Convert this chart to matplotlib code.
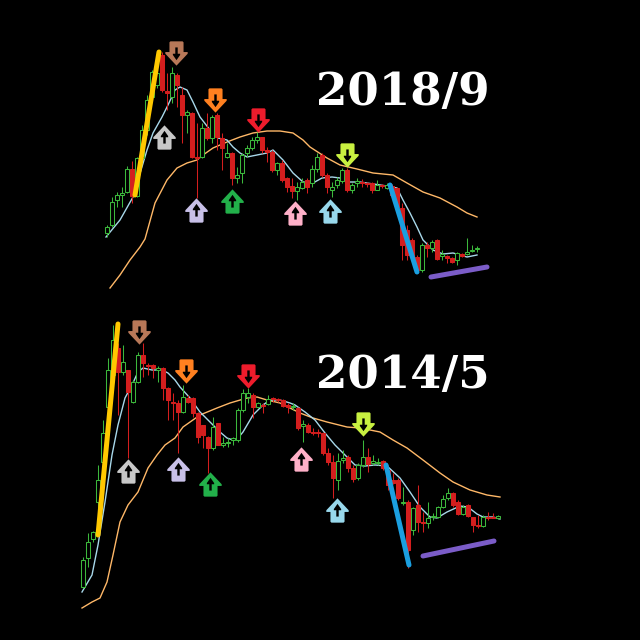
import matplotlib

matplotlib.use("Agg")

import matplotlib.pyplot as plt
from matplotlib.patches import Rectangle
from matplotlib.path import Path


# ---- 2018/9 panel (candle index, price) ----
TOP_OPEN = [67, 75, 100, 105, 108, 131, 104, 142, 170, 203, 215, 245, 209, 203, 225,
            205, 185, 187, 143, 143, 172, 162, 185, 162, 143, 147, 122, 127, 147, 152,
            160, 163, 150, 148, 130, 137, 122, 114, 109, 112, 120, 117, 131, 145, 125,
            110, 115, 119, 130, 110, 117, 118, 117, 117, 110, 115, 112, 114, 112, 92,
            70, 60, 43, 30, 55, 52, 60, 44, 44, 42, 40, 46, 46, 49, 51]
TOP_HIGH = [75, 103, 108, 113, 134, 139, 143, 175, 205, 230, 235, 248, 227, 233, 227,
            213, 190, 188, 177, 177, 187, 185, 187, 167, 157, 148, 133, 147, 155, 163,
            168, 163, 153, 150, 138, 140, 123, 122, 118, 122, 122, 135, 147, 147, 127,
            118, 123, 132, 132, 117, 122, 121, 118, 118, 120, 116, 117, 116, 113, 97,
            75, 62, 45, 57, 58, 60, 61, 50, 45, 43, 48, 47, 62, 55, 54]
TOP_LOW = [63, 73, 93, 93, 107, 97, 103, 140, 165, 200, 212, 208, 190, 197, 193,
           157, 167, 142, 102, 142, 160, 157, 150, 130, 142, 115, 117, 117, 143, 150,
           157, 147, 138, 128, 125, 118, 108, 102, 100, 111, 107, 113, 128, 123, 107,
           103, 112, 117, 108, 107, 113, 113, 113, 107, 110, 112, 111, 103, 92, 40,
           40, 40, 28, 28, 43, 48, 40, 40, 37, 37, 35, 43, 45, 48, 48]
TOP_CLOSE = [73, 98, 105, 107, 131, 104, 142, 170, 200, 228, 227, 210, 207, 227, 215,
             185, 188, 143, 142, 172, 162, 183, 163, 152, 147, 122, 125, 145, 152, 160,
             163, 150, 148, 130, 137, 120, 113, 109, 113, 118, 113, 131, 143, 125, 113,
             113, 120, 130, 110, 115, 119, 117, 116, 110, 115, 114, 115, 105, 93, 55,
             45, 43, 30, 55, 52, 58, 41, 46, 42, 38, 47, 44, 48, 50, 52]

TOP_MA_SHORT_X = [-0.2, 2.6, 5.2, 8, 9.2, 11, 12.2, 13.6, 14.6, 16, 17.2, 18.6, 20.6,
                  22.2, 24, 25.2, 26.6, 28, 30, 32, 33.2, 35.2, 37.2, 39.2, 41.2, 43,
                  45, 46.6, 48, 50.6, 56, 58, 59.2, 60.6, 62, 63.2, 65.2, 67.2, 69.2,
                  72, 74]
TOP_MA_SHORT_Y = [63, 80, 103, 150, 167, 183, 195, 210, 213, 210, 198, 183, 170, 162,
                  160, 153, 147, 143, 145, 147, 150, 140, 127, 118, 117, 122, 123, 122,
                  118, 118, 114, 112, 100, 87, 73, 60, 50, 46, 47, 43, 45]
TOP_MA_LONG_X = [0.6, 2.6, 4.6, 6.6, 7.6, 9.6, 12, 14, 16, 18, 19.2, 21.2, 24, 26.6,
                 29.2, 32, 34.6, 37.2, 39.2, 40.6, 44, 46.6, 50, 53.2, 57.2, 60, 63.2,
                 66.6, 70, 72, 74]
TOP_MA_LONG_Y = [12, 25, 40, 53, 61, 97, 120, 132, 137, 140, 145, 152, 158, 163, 167,
                 169, 169, 167, 160, 153, 142, 135, 131, 127, 125, 117, 108, 102, 93,
                 87, 83]

# ---- 2014/5 panel ----
BOT_OPEN = [33, 62, 81, 118, 158, 213, 245, 272, 248, 250, 218, 238, 265, 255, 255,
            250, 252, 232, 218, 217, 208, 222, 222, 207, 195, 183, 172, 197, 175, 177,
            180, 180, 210, 223, 225, 213, 215, 216, 222, 221, 220, 215, 213, 212, 194,
            195, 188, 188, 187, 167, 158, 140, 160, 163, 152, 142, 155, 163, 157, 157,
            159, 150, 140, 140, 117, 118, 90, 115, 98, 97, 103, 103, 113, 122, 127,
            118, 106, 115, 103, 95, 94, 103, 103, 102]
BOT_HIGH = [63, 87, 89, 155, 200, 262, 295, 277, 275, 250, 240, 268, 277, 257, 256,
            254, 253, 233, 227, 220, 235, 225, 223, 208, 195, 184, 203, 197, 183, 182,
            183, 212, 231, 232, 227, 218, 217, 225, 223, 222, 221, 217, 217, 213, 200,
            197, 192, 191, 188, 172, 165, 167, 170, 165, 155, 157, 180, 172, 165, 162,
            160, 155, 147, 142, 133, 120, 113, 135, 108, 118, 107, 114, 125, 132, 128,
            120, 115, 116, 103, 105, 105, 108, 107, 105]
BOT_LOW = [32, 53, 78, 105, 155, 212, 242, 205, 245, 162, 217, 237, 243, 245, 242,
           238, 220, 200, 200, 167, 207, 217, 203, 177, 172, 147, 170, 175, 173, 173,
           175, 178, 208, 217, 202, 212, 207, 215, 218, 218, 213, 207, 210, 190, 178,
           187, 185, 183, 165, 155, 122, 130, 157, 148, 138, 140, 153, 148, 155, 155,
           150, 130, 136, 120, 115, 52, 85, 88, 88, 92, 100, 102, 112, 120, 113,
           105, 105, 103, 88, 92, 93, 100, 102, 101]
BOT_CLOSE = [60, 78, 88, 140, 187, 250, 280, 248, 258, 228, 238, 265, 257, 254, 252,
             252, 232, 220, 217, 208, 223, 218, 207, 183, 185, 172, 193, 175, 177, 178,
             182, 210, 227, 227, 213, 217, 214, 221, 221, 220, 214, 213, 214, 192, 196,
             188, 187, 187, 167, 158, 142, 159, 162, 152, 141, 155, 163, 156, 159, 158,
             152, 135, 137, 122, 118, 70, 112, 98, 97, 102, 104, 113, 121, 127, 115,
             106, 113, 104, 95, 94, 103, 102, 102, 104]

BOT_MA_SHORT_X = [-0.2, 1.8, 3, 4.4, 5.8, 7, 8.4, 9.8, 11, 12, 13.8, 15.8, 17, 18.4,
                  19.4, 21.4, 23.4, 25.4, 27.4, 28.8, 30, 31, 32, 34, 36, 37.4, 39.4,
                  41.4, 42.4, 44.4, 46.4, 48.4, 50.4, 52.4, 54.4, 56.4, 58.4, 60.8,
                  63.4, 65.4, 67.4, 69.4, 70.8, 72.8, 75.4, 77, 78.8, 80, 82, 83.4]
BOT_MA_SHORT_Y = [28, 45, 75, 118, 165, 195, 222, 235, 248, 252, 250, 250, 247, 240,
                  233, 222, 208, 198, 188, 182, 180, 182, 188, 205, 215, 220, 220, 217,
                  215, 208, 200, 187, 175, 165, 155, 154, 155, 154, 142, 128, 113, 103,
                  102, 108, 114, 113, 106, 103, 103, 101]
BOT_MA_LONG_X = [-0.2, 1.8, 3.4, 4.8, 6, 7.4, 9, 11, 13, 14.8, 16.4, 18.4, 20, 23.4,
                 26.8, 29.4, 32.8, 34.8, 36.8, 39.4, 43.4, 46, 48.8, 52.8, 55.4, 59.4,
                 62, 64.8, 68, 71.4, 74, 77.4, 80.8, 83.4]
BOT_MA_LONG_Y = [12, 18, 22, 38, 65, 98, 115, 128, 152, 165, 175, 182, 193, 205, 212,
                 217, 222, 223, 220, 217, 207, 202, 198, 193, 192, 188, 180, 172, 160,
                 147, 138, 130, 125, 123]

# trend strokes: (x0, y0, x1, y1, colour)
TOP_STROKES = [(5.6, 105, 10.4, 248, "#ffc800"),
               (56.6, 115, 62.0, 28, "#1b9fe0"),
               (64.8, 23, 76.0, 33, "#7b5cc8")]
BOT_STROKES = [(3.0, 85, 7.0, 296, "#ffc800"),
               (60.6, 155, 65.2, 55, "#1b9fe0"),
               (68.0, 64, 82.2, 79, "#7b5cc8")]

# signal arrows: (x, y, direction, colour)
TOP_ARROWS = [(13.8, 247, "down", "#b87858"),
              (11.4, 163, "up", "#c8c8c8"),
              (21.6, 200, "down", "#ff8020"),
              (17.8, 90, "up", "#c8c0e8"),
              (25.0, 99, "up", "#22b04a"),
              (30.2, 180, "down", "#ee1c2c"),
              (37.6, 87, "up", "#ffb0c8"),
              (44.6, 89, "up", "#98d8ec"),
              (48.0, 145, "down", "#c8f040")]
BOT_ARROWS = [(11.2, 288, "down", "#b87858"),
              (9.0, 149, "up", "#c8c8c8"),
              (20.6, 249, "down", "#ff8020"),
              (19.0, 151, "up", "#c8c0e8"),
              (25.4, 136, "up", "#22b04a"),
              (33.0, 244, "down", "#ee1c2c"),
              (43.6, 161, "up", "#ffb0c8"),
              (50.8, 110, "up", "#98d8ec"),
              (56.0, 196, "down", "#c8f040")]

GREEN = "#3cb83c"
RED = "#d41e1e"
MA_SHORT_COLOR = "#a8d8ea"
MA_LONG_COLOR = "#ffb868"
ARROW_SIZE = 17.5
INNER_SCALE = 0.55


def arrow_paths(direction):
    s = 1 if direction == "up" else -1
    # blocky outer arrow with slightly cut corners
    outer = [(0, 1), (0.92, 0.02), (0.92, -0.12), (0.58, -0.12), (0.58, -0.92),
             (0.5, -1), (-0.5, -1), (-0.58, -0.92), (-0.58, -0.12), (-0.92, -0.12),
             (-0.92, 0.02), (0, 1)]
    inner = [(0, 0.55), (0.3, 0.12), (0.3, 0.02), (0.1, 0.02), (0.1, -0.5),
             (-0.1, -0.5), (-0.1, 0.02), (-0.3, 0.02), (-0.3, 0.12), (0, 0.55)]
    outer = Path([(x, s * y) for x, y in outer], closed=True)
    inner = Path([(x, s * y) for x, y in inner], closed=True)
    return outer, inner


def draw_candles(ax, opens, highs, lows, closes):
    for i, (o, h, l, c) in enumerate(zip(opens, highs, lows, closes)):
        up = c >= o
        color = GREEN if up else RED
        ax.vlines(i, l, h, color=color, lw=0.75, zorder=2)
        ax.add_patch(Rectangle((i - 0.32, min(o, c)), 0.64, max(abs(c - o), 1),
                               facecolor="black" if up else color,
                               edgecolor=color, lw=0.75, zorder=3))


def draw_panel(ax, ohlc, ma_short, ma_long, strokes, arrows, xlim):
    ax.set_facecolor("black")
    ax.plot(*ma_long, color=MA_LONG_COLOR, lw=1, zorder=1)
    ax.plot(*ma_short, color=MA_SHORT_COLOR, lw=1, zorder=1.5)
    draw_candles(ax, *ohlc)

    for x0, y0, x1, y1, color in strokes:
        ax.plot([x0, x1], [y0, y1], color=color, lw=3.6,
                solid_capstyle="round", zorder=5)

    for x, y, direction, color in arrows:
        outer, inner = arrow_paths(direction)
        ax.plot(x, y, marker=outer, markersize=ARROW_SIZE, color=color,
                markeredgewidth=0, zorder=6)
        ax.plot(x, y, marker=inner, markersize=ARROW_SIZE * INNER_SCALE,
                color="black", markeredgewidth=0, zorder=7)

    ax.set_xlim(*xlim)
    ax.set_ylim(-20, 300)
    ax.axis("off")


def main():
    fig = plt.figure(figsize=(6.4, 6.4), dpi=100, facecolor="black")

    ax_top = fig.add_axes([0, 0.5, 1, 0.5])
    draw_panel(ax_top, (TOP_OPEN, TOP_HIGH, TOP_LOW, TOP_CLOSE),
               (TOP_MA_SHORT_X, TOP_MA_SHORT_Y), (TOP_MA_LONG_X, TOP_MA_LONG_Y),
               TOP_STROKES, TOP_ARROWS, (-21.4, 106.6))

    ax_bot = fig.add_axes([0, 0, 1, 0.5])
    draw_panel(ax_bot, (BOT_OPEN, BOT_HIGH, BOT_LOW, BOT_CLOSE),
               (BOT_MA_SHORT_X, BOT_MA_SHORT_Y), (BOT_MA_LONG_X, BOT_MA_LONG_Y),
               BOT_STROKES, BOT_ARROWS, (-16.6, 111.4))

    text_style = dict(color="white", fontsize=32.5, fontweight="bold",
                      family="DejaVu Serif", ha="left", va="baseline")
    fig.text(316 / 640, 1 - 105 / 640, "2018/9", **text_style)
    fig.text(316 / 640, 1 - 388 / 640, "2014/5", **text_style)

    fig.savefig("out.png", dpi=100, facecolor="black")
    plt.close(fig)


if __name__ == "__main__":
    main()
